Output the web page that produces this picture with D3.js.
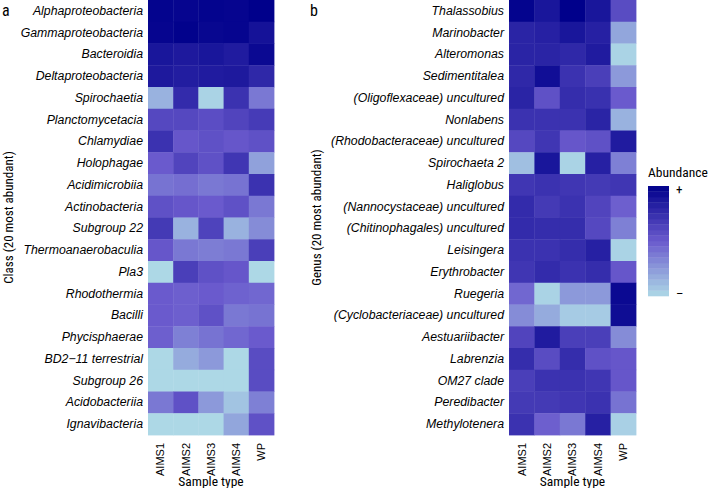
<!DOCTYPE html>
<html><head><meta charset="utf-8">
<script src="https://cdn.jsdelivr.net/npm/d3@7"></script>
<style>
body{margin:0;background:#fff;}
svg{display:block;font-family:"Liberation Sans Narrow","Arial Narrow","Roboto Condensed","Liberation Sans",sans-serif;}
</style></head>
<body><svg id="chart" width="709" height="488"></svg>
<script>
const samples = ["AIMS1","AIMS2","AIMS3","AIMS4","WP"];
const classNames = ["Alphaproteobacteria","Gammaproteobacteria","Bacteroidia","Deltaproteobacteria","Spirochaetia","Planctomycetacia","Chlamydiae","Holophagae","Acidimicrobiia","Actinobacteria","Subgroup 22","Thermoanaerobaculia","Pla3","Rhodothermia","Bacilli","Phycisphaerae","BD2\u221211 terrestrial","Subgroup 26","Acidobacteriia","Ignavibacteria"];
const classValues = [
 [0.98,0.97,0.98,0.97,1.00],
 [0.97,0.99,0.96,0.97,0.90],
 [0.88,0.86,0.88,0.85,0.95],
 [0.86,0.84,0.85,0.86,0.78],
 [0.15,0.76,0.02,0.72,0.38],
 [0.60,0.60,0.57,0.62,0.67],
 [0.72,0.52,0.55,0.52,0.55],
 [0.50,0.62,0.55,0.70,0.22],
 [0.40,0.42,0.38,0.40,0.72],
 [0.55,0.52,0.50,0.55,0.38],
 [0.68,0.15,0.63,0.15,0.30],
 [0.52,0.38,0.36,0.38,0.65],
 [0.00,0.65,0.55,0.52,0.00],
 [0.50,0.48,0.50,0.47,0.45],
 [0.50,0.48,0.55,0.38,0.40],
 [0.48,0.35,0.40,0.45,0.50],
 [0.00,0.18,0.25,0.00,0.58],
 [0.00,0.00,0.00,0.00,0.58],
 [0.38,0.55,0.25,0.08,0.35],
 [0.00,0.00,0.00,0.20,0.55]
];
const genusNames = ["Thalassobius","Marinobacter","Alteromonas","Sedimentitalea","(Oligoflexaceae) uncultured","Nonlabens","(Rhodobacteraceae) uncultured","Spirochaeta 2","Haliglobus","(Nannocystaceae) uncultured","(Chitinophagales) uncultured","Leisingera","Erythrobacter","Ruegeria","(Cyclobacteriaceae) uncultured","Aestuariibacter","Labrenzia","OM27 clade","Peredibacter","Methylotenera"];
const genusValues = [
 [0.98,0.88,1.00,0.88,0.58],
 [0.80,0.82,0.88,0.82,0.20],
 [0.80,0.80,0.78,0.85,0.02],
 [0.78,0.92,0.72,0.65,0.25],
 [0.80,0.55,0.75,0.73,0.50],
 [0.72,0.72,0.72,0.80,0.15],
 [0.60,0.70,0.52,0.55,0.85],
 [0.10,0.88,0.02,0.82,0.35],
 [0.70,0.72,0.70,0.68,0.70],
 [0.76,0.68,0.72,0.62,0.48],
 [0.76,0.75,0.75,0.60,0.35],
 [0.72,0.72,0.75,0.82,0.02],
 [0.70,0.76,0.72,0.75,0.52],
 [0.45,0.02,0.25,0.25,0.95],
 [0.30,0.18,0.05,0.05,0.93],
 [0.62,0.85,0.65,0.65,0.30],
 [0.75,0.58,0.75,0.55,0.52],
 [0.65,0.72,0.72,0.70,0.52],
 [0.68,0.68,0.70,0.72,0.40],
 [0.72,0.48,0.38,0.82,0.03]
];
const legendLabels = ["+","\u2013"];

const svg = d3.select("#chart");
const color = d3.scaleLinear().domain([0,0.5,1]).range(["#ADD8E6","#6A5ACD","#00008B"]).interpolate(d3.interpolateRgb);

function panel(x0, x1, names, values, letter, ytitle, ytitleX, letterX){
  const top = 0, bottom = 435;
  const xs = d3.scaleBand().domain(samples).range([x0,x1]).padding(0);
  const ys = d3.scaleBand().domain(names).range([top,bottom]).padding(0);
  const g = svg.append("g");
  names.forEach((n,i)=>{
    samples.forEach((s,j)=>{
      g.append("rect").attr("x",xs(s)).attr("y",ys(n)).attr("width",xs.bandwidth()+0.4).attr("height",ys.bandwidth()+0.4)
       .attr("fill",color(values[i][j]));
    });
  });
  const ya = d3.axisLeft(ys).tickSize(0).tickPadding(5);
  const yg = svg.append("g").attr("transform",`translate(${x0},0)`).call(ya);
  yg.select(".domain").remove();
  yg.selectAll("text").attr("font-size",12.3).attr("font-style","italic").attr("fill","#000").attr("font-family",null);
  const xa = d3.axisBottom(xs).tickSize(0).tickPadding(5);
  const xg = svg.append("g").attr("transform",`translate(0,${bottom})`).call(xa);
  xg.select(".domain").remove();
  xg.selectAll("text").attr("font-size",11).attr("fill","#000").attr("font-family",null)
    .attr("transform","rotate(-90)").attr("text-anchor","end").attr("dy","0.35em").attr("x",-8).attr("y",0);
  svg.append("text").attr("x",(x0+x1)/2).attr("y",486).attr("text-anchor","middle").attr("font-size",13.5).text("Sample type");
  svg.append("text").attr("transform",`translate(${ytitleX},${(top+bottom)/2}) rotate(-90)`).attr("text-anchor","middle").attr("font-size",13).text(ytitle);
  svg.append("text").attr("x",letterX).attr("y",16).attr("font-size",16).text(letter);
}

panel(148, 274, classNames, classValues, "a", "Class (20 most abundant)", 13, 2);
panel(509, 636, genusNames, genusValues, "b", "Genus (20 most abundant)", 321, 310);

// legend
const lx = 648, ly0 = 186, ly1 = 296, lw = 21;
const nb = 20;
const ls = d3.scaleLinear().domain([0,1]).range([ly1, ly0]);
d3.range(nb).forEach(i=>{
  const v0 = i/nb, v1 = (i+1)/nb;
  svg.append("rect").attr("x",lx).attr("y",ls(v1)).attr("width",lw).attr("height",ls(v0)-ls(v1)+0.3)
    .attr("fill",color((v0+v1)/2));
});
svg.append("text").attr("x",lx).attr("y",177).attr("font-size",13.5).text("Abundance");
svg.append("text").attr("x",lx+lw+7).attr("y",ls(0.97)+5).attr("font-size",13).text(legendLabels[0]);
svg.append("text").attr("x",lx+lw+7).attr("y",ls(0.03)+5).attr("font-size",13).text(legendLabels[1]);
</script></body></html>
